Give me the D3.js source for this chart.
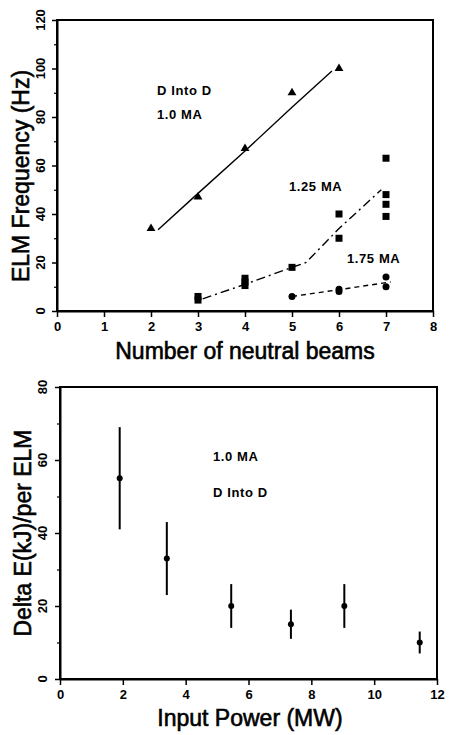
<!DOCTYPE html>
<html>
<head>
<meta charset="utf-8">
<script src="https://cdn.jsdelivr.net/npm/d3@7"></script>
<style>
	html, body { margin: 0; padding: 0; background: #fff; }
	svg { display: block; font-family: 'Liberation Sans', Arial, sans-serif; }
</style>
</head>
<body>
<script>
// top panel: ELM frequency vs number of beams
const beams10 = [2, 3, 4, 5, 6],
		freq10 = [34, 47, 67, 90, 100],
		fit10X = [2.15, 3, 4, 5, 5.85],
		fit10Y = [33.5, 48.5, 66, 84, 99];

const beams125 = [3, 3, 4, 4, 4, 5, 6, 6, 7, 7, 7, 7],
		freq125 = [4.5, 6, 10.5, 12, 13.5, 18, 40, 30, 63, 48, 44, 39],
		fit125X = [3.1, 4, 5, 5.3, 6, 6.9],
		fit125Y = [5, 11, 18, 20, 34, 50];

const beams175 = [5, 6, 6, 7, 7],
		freq175 = [6, 8, 9, 14, 10],
		fit175X = [5, 6, 7.1],
		fit175Y = [6, 8.8, 12];

// bottom panel: energy loss per ELM vs input power
const power = [1.9, 3.4, 5.45, 7.35, 9.05, 11.45],
		deltaE = [55, 33, 20, 15, 20, 10],
		deltaLo = [41, 23, 14, 11, 14, 7],
		deltaHi = [69, 43, 26, 19, 26, 13];

const topXTicks = [0, 1, 2, 3, 4, 5, 6, 7, 8],
		topYTicks = [0, 20, 40, 60, 80, 100, 120],
		botXTicks = [0, 2, 4, 6, 8, 10, 12],
		botYTicks = [0, 20, 40, 60, 80];

let width = 449, height = 735;

let svg = d3.select('body').append('svg')
		.attr('width', width)
		.attr('height', height);

function panel(opt) {
	let x = d3.scaleLinear().domain(opt.xDomain).range(opt.xRange),
			y = d3.scaleLinear().domain(opt.yDomain).range(opt.yRange);

	let g = svg.append('g');

	// frame
	g.append('rect')
			.attr('x', opt.xRange[0])
			.attr('y', opt.yRange[1])
			.attr('width', opt.xRange[1] - opt.xRange[0])
			.attr('height', opt.yRange[0] - opt.yRange[1])
			.attr('fill', 'none')
			.attr('stroke', '#000')
			.attr('stroke-width', 2);

	// minor y ticks
	let minor = d3.range(opt.yDomain[0] + 10, opt.yDomain[1], 20);
	g.append('g')
			.attr('transform', `translate(${opt.xRange[0]},0)`)
			.call(d3.axisLeft(y).tickValues(minor).tickSize(3).tickFormat(''))
			.call(a => a.select('.domain').remove())
			.call(a => a.selectAll('line').attr('stroke-width', 1.2));

	// major y ticks, labels written sideways
	let ya = g.append('g')
			.attr('transform', `translate(${opt.xRange[0]},0)`)
			.call(d3.axisLeft(y).tickValues(opt.yTicks).tickSize(5).tickSizeOuter(0).tickFormat(''));
	ya.select('.domain').attr('stroke-width', 2);
	ya.selectAll('line').attr('stroke-width', 1.5);

	g.append('g').selectAll('g')
			.data(opt.yTicks)
			.enter()
			.append('g')
			.attr('transform', d => `translate(${opt.yLabelX + 4.5},${y(d)})`)
			.append('text')
			.attr('transform', 'rotate(-90)')
			.attr('text-anchor', 'middle')
			.style('font-size', '13px')
			.style('font-weight', 'bold')
			.text(d => String(d));

	let xa = g.append('g')
			.attr('transform', `translate(0,${opt.yRange[0]})`)
			.call(d3.axisBottom(x).tickValues(opt.xTicks).tickSize(6).tickSizeOuter(0));
	xa.select('.domain').attr('stroke-width', 2);
	xa.selectAll('line').attr('stroke-width', 1.5);
	xa.selectAll('text')
			.attr('y', 11)
			.attr('dy', '0.71em')
			.style('font-size', '13px')
			.style('font-weight', 'bold')
			.attr('fill', '#000');

	// titles
	g.append('text')
			.attr('transform', `translate(${opt.yTitleX},${opt.yTitleY}) rotate(-90)`)
			.attr('text-anchor', 'middle')
			.style('font-size', '23px')
			.attr('stroke', '#000')
			.attr('stroke-width', 0.6)
			.text(opt.yTitle);

	g.append('text')
			.attr('x', opt.xTitleX)
			.attr('y', opt.xTitleY)
			.attr('text-anchor', 'middle')
			.style('font-size', '23px')
			.attr('stroke', '#000')
			.attr('stroke-width', 0.6)
			.text(opt.xTitle);

	return {x: x, y: y, g: g};
}

function label(g, x, y, txt) {
	g.append('text')
			.attr('x', x)
			.attr('y', y)
			.style('font-size', '13px')
			.style('font-weight', 'bold')
			.style('letter-spacing', '0.6px')
			.text(txt);
}

// ---- top panel
let upper = panel({
	xDomain: [0, 8], xRange: [57, 433],
	yDomain: [0, 120], yRange: [311, 20],
	xTicks: topXTicks, yTicks: topYTicks,
	yLabelX: 40,
	yTitle: 'ELM Frequency (Hz)', yTitleX: 29, yTitleY: 176,
	xTitle: 'Number of neutral beams', xTitleX: 245, xTitleY: 359
});

let line = d3.line().x(d => upper.x(d[0])).y(d => upper.y(d[1]));

upper.g.append('path')
		.datum(d3.zip(fit10X, fit10Y))
		.attr('d', line)
		.attr('fill', 'none')
		.attr('stroke', '#000')
		.attr('stroke-width', 1.4);

upper.g.append('path')
		.datum(d3.zip(fit125X, fit125Y))
		.attr('d', line)
		.attr('fill', 'none')
		.attr('stroke', '#000')
		.attr('stroke-width', 1.4)
		.attr('stroke-dasharray', '9,4,2,4');

upper.g.append('path')
		.datum(d3.zip(fit175X, fit175Y))
		.attr('d', line)
		.attr('fill', 'none')
		.attr('stroke', '#000')
		.attr('stroke-width', 1.4)
		.attr('stroke-dasharray', '5,4');

upper.g.append('g').selectAll('path')
		.data(d3.zip(beams10, freq10))
		.enter()
		.append('path')
		.attr('transform', d => `translate(${upper.x(d[0])},${upper.y(d[1])})`)
		.attr('d', d3.symbol(d3.symbolTriangle, 34))
		.attr('fill', '#000');

upper.g.append('g').selectAll('rect')
		.data(d3.zip(beams125, freq125))
		.enter()
		.append('rect')
		.attr('x', d => upper.x(d[0]) - 3.5)
		.attr('y', d => upper.y(d[1]) - 3.5)
		.attr('width', 7)
		.attr('height', 7)
		.attr('fill', '#000');

upper.g.append('g').selectAll('circle')
		.data(d3.zip(beams175, freq175))
		.enter()
		.append('circle')
		.attr('cx', d => upper.x(d[0]))
		.attr('cy', d => upper.y(d[1]))
		.attr('r', 3.5)
		.attr('fill', '#000');

label(upper.g, 157, 95, 'D Into D');
label(upper.g, 157, 119, '1.0 MA');
label(upper.g, 289, 191, '1.25 MA');
label(upper.g, 347, 263, '1.75 MA');

// ---- bottom panel
let lower = panel({
	xDomain: [0, 12], xRange: [60, 437],
	yDomain: [0, 80], yRange: [679, 387],
	xTicks: botXTicks, yTicks: botYTicks,
	yLabelX: 42,
	yTitle: 'Delta E(kJ)/per ELM', yTitleX: 31, yTitleY: 533,
	xTitle: 'Input Power (MW)', xTitleX: 250, xTitleY: 726
});

let pts = power.map((p, i) => ({p: p, e: deltaE[i], lo: deltaLo[i], hi: deltaHi[i]}));

lower.g.append('g').selectAll('line')
		.data(pts)
		.enter()
		.append('line')
		.attr('x1', d => lower.x(d.p))
		.attr('x2', d => lower.x(d.p))
		.attr('y1', d => lower.y(d.lo))
		.attr('y2', d => lower.y(d.hi))
		.attr('stroke', '#000')
		.attr('stroke-width', 2);

lower.g.append('g').selectAll('circle')
		.data(pts)
		.enter()
		.append('circle')
		.attr('cx', d => lower.x(d.p))
		.attr('cy', d => lower.y(d.e))
		.attr('r', 3)
		.attr('fill', '#000');

label(lower.g, 213, 461, '1.0 MA');
label(lower.g, 213, 497, 'D Into D');
</script>
</body>
</html>
